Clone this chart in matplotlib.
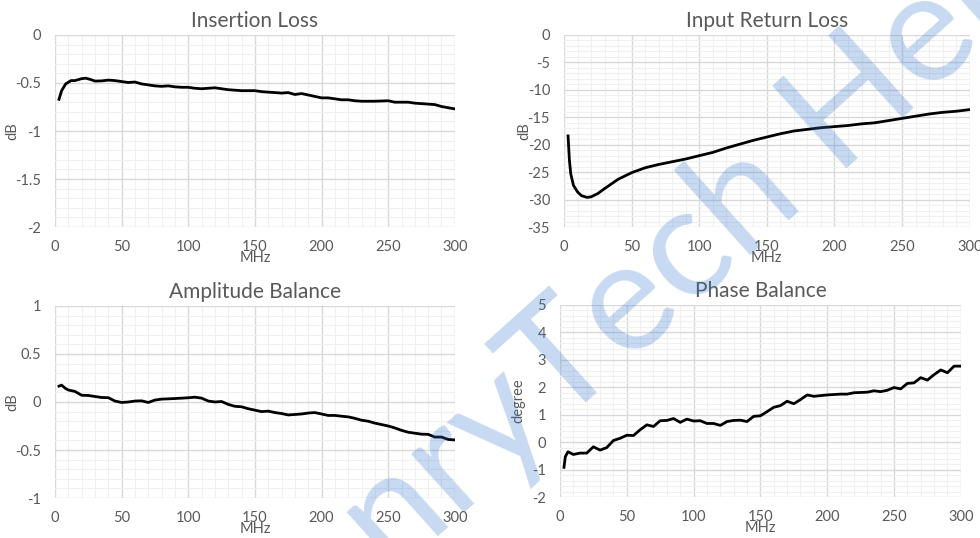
import numpy as np
import matplotlib.pyplot as plt
from matplotlib.ticker import MultipleLocator, FuncFormatter

plt.rcParams['font.family'] = ['Lato', 'DejaVu Sans']
plt.rcParams['axes.unicode_minus'] = False

# Insertion Loss
il_f = [3, 5, 8, 12, 15, 20, 23, 27, 30, 35, 40, 45, 50, 55, 60, 65, 70, 75, 80, 85, 90, 95, 100,
        105, 110, 115, 120, 125, 130, 140, 150, 155, 160, 170, 175, 180, 185, 190, 200, 205, 210,
        215, 220, 225, 230, 240, 250, 255, 260, 265, 270, 280, 285, 290, 300]
il_db = [-0.67, -0.58, -0.51, -0.475, -0.475, -0.455, -0.45, -0.465, -0.48, -0.478, -0.47, -0.475,
         -0.485, -0.495, -0.49, -0.51, -0.52, -0.53, -0.535, -0.53, -0.54, -0.545, -0.545, -0.555,
         -0.56, -0.555, -0.55, -0.56, -0.57, -0.58, -0.58, -0.59, -0.595, -0.605, -0.6, -0.62, -0.61,
         -0.625, -0.655, -0.655, -0.665, -0.675, -0.675, -0.685, -0.69, -0.69, -0.685, -0.7, -0.7,
         -0.7, -0.71, -0.72, -0.725, -0.745, -0.77]

# Input Return Loss
rl_f = [3, 4, 5, 7, 10, 13, 17, 20, 25, 30, 40, 50, 60, 70, 80, 90, 100, 110, 120, 130, 140, 150,
        160, 170, 180, 190, 200, 210, 220, 230, 240, 250, 260, 270, 280, 290, 300]
rl_db = [-18.4, -22.8, -25.3, -27.4, -28.6, -29.3, -29.6, -29.5, -28.9, -28.0, -26.3, -25.1, -24.2,
         -23.6, -23.1, -22.6, -22.0, -21.4, -20.6, -19.9, -19.2, -18.6, -18.0, -17.5, -17.2, -16.9,
         -16.7, -16.5, -16.2, -16.0, -15.6, -15.2, -14.8, -14.4, -14.1, -13.9, -13.6]

# Amplitude Balance
ab_f = [3, 5, 8, 10, 15, 20, 25, 30, 35, 40, 45, 50, 55, 60, 65, 70, 75, 80, 90, 100, 105, 110, 115,
        120, 125, 130, 135, 140, 145, 150, 155, 160, 165, 170, 175, 180, 185, 190, 195, 200, 205,
        210, 215, 220, 225, 230, 235, 240, 245, 250, 255, 260, 265, 270, 275, 280, 285, 290, 295, 300]
ab_db = [0.165, 0.175, 0.14, 0.125, 0.11, 0.07, 0.068, 0.057, 0.047, 0.045, 0.01, -0.005, 0.0, 0.01,
         0.012, -0.005, 0.02, 0.03, 0.036, 0.044, 0.05, 0.04, 0.01, 0.0, 0.005, -0.025, -0.045, -0.05,
         -0.07, -0.085, -0.1, -0.095, -0.11, -0.12, -0.135, -0.13, -0.125, -0.115, -0.11, -0.125,
         -0.14, -0.14, -0.148, -0.155, -0.17, -0.19, -0.2, -0.22, -0.235, -0.25, -0.27, -0.295,
         -0.315, -0.325, -0.335, -0.337, -0.365, -0.365, -0.39, -0.395]

# Phase Balance
pb_f = [3, 4, 6, 10, 15, 20, 25, 30, 35, 40, 45, 50, 55, 60, 65, 70, 75, 80, 85, 90, 95, 100, 105,
        110, 115, 120, 125, 130, 135, 140, 145, 150, 155, 160, 165, 170, 175, 180, 185, 190, 200,
        210, 215, 220, 230, 235, 240, 245, 250, 255, 260, 265, 270, 275, 280, 285, 290, 295, 300]
pb_deg = [-0.92, -0.53, -0.35, -0.45, -0.4, -0.4, -0.17, -0.29, -0.2, 0.06, 0.14, 0.25, 0.24, 0.45,
          0.63, 0.57, 0.78, 0.79, 0.86, 0.72, 0.84, 0.77, 0.78, 0.68, 0.68, 0.61, 0.75, 0.79, 0.8,
          0.75, 0.94, 0.96, 1.11, 1.27, 1.33, 1.49, 1.4, 1.55, 1.72, 1.67, 1.72, 1.75, 1.75, 1.8,
          1.82, 1.87, 1.84, 1.89, 1.99, 1.94, 2.14, 2.16, 2.35, 2.26, 2.46, 2.63, 2.53, 2.77, 2.77]

txt = '#595959'
fig = plt.figure(figsize=(9.8, 5.38), dpi=100)

panels = [
    ([0.0561, 0.578, 0.408, 0.357], il_f, il_db, 'Insertion Loss', 'dB', (-2, 0), 0.5, 0.1, -3),
    ([0.5755, 0.578, 0.414, 0.357], rl_f, rl_db, 'Input Return Loss', 'dB', (-35, 0), 5, 1, -3),
    ([0.0561, 0.0743, 0.408, 0.357], ab_f, ab_db, 'Amplitude Balance', 'dB', (-1, 1), 0.5, 0.1, -3),
    ([0.5714, 0.0762, 0.409, 0.357], pb_f, pb_deg, 'Phase Balance', 'degree', (-2, 5), 1, 0.2, 5),
]

fmt = FuncFormatter(lambda v, p: '%g' % round(v, 6))

for rect, f, y, title, ylab, ylim, ymaj, ymin, lpad in panels:
    ax = fig.add_axes(rect)
    ax.plot(f, y, color='black', lw=2, zorder=3)
    ax.set_xlim(0, 300)
    ax.set_ylim(*ylim)
    ax.xaxis.set_major_locator(MultipleLocator(50))
    ax.xaxis.set_minor_locator(MultipleLocator(10))
    ax.yaxis.set_major_locator(MultipleLocator(ymaj))
    ax.yaxis.set_minor_locator(MultipleLocator(ymin))
    ax.yaxis.set_major_formatter(fmt)
    ax.grid(which='major', color='#d9d9d9', lw=1)
    ax.grid(which='minor', color='#f0f0f0', lw=0.8)
    ax.set_axisbelow(True)
    for s in ax.spines.values():
        s.set_visible(False)
    ax.tick_params(which='both', length=0, labelsize=10.5, labelcolor=txt)
    ax.tick_params(axis='x', pad=9)
    ax.tick_params(axis='y', pad=10)
    ax.set_title(title, fontsize=15, color=txt, pad=6)
    ax.set_xlabel('MHz', fontsize=10.5, color=txt, labelpad=-2)
    ax.set_ylabel(ylab, fontsize=10.5, color=txt, labelpad=lpad)

# watermark
fig.text(392 / 980, 1 - 578 / 538, 'nryTech Hen', fontsize=112, color='#2f75d0', alpha=0.27,
         rotation=42, rotation_mode='anchor', ha='left', va='baseline', zorder=10)

fig.savefig('out.png', dpi=100, facecolor='white')
